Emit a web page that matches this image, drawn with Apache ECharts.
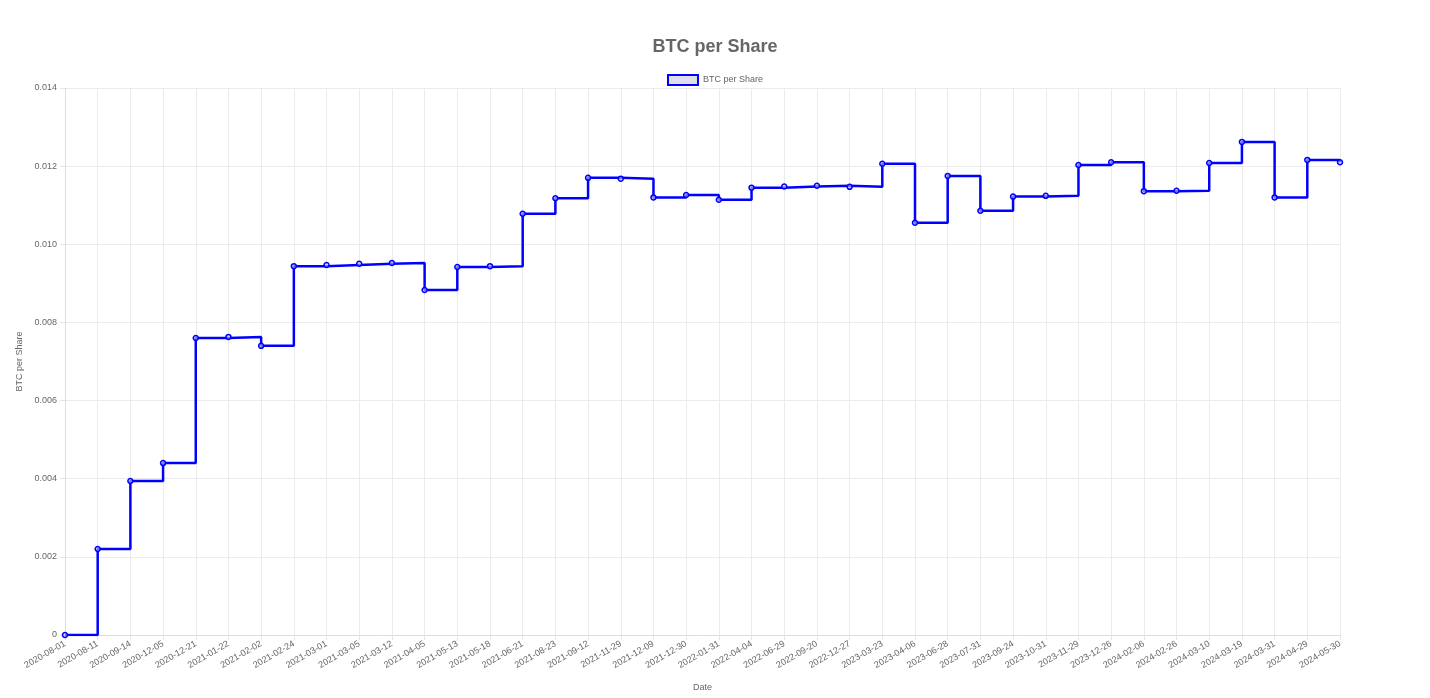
<!DOCTYPE html><html><head><meta charset="utf-8"><script src="https://cdn.jsdelivr.net/npm/echarts@6/dist/echarts.min.js"></script>
<style>html,body{margin:0;padding:0;background:#fff}#c{width:1430px;height:698px}</style></head><body><div id="c"></div>
<script>
const dates=["2020-08-01","2020-08-11","2020-09-14","2020-12-05","2020-12-21","2021-01-22","2021-02-02","2021-02-24","2021-03-01","2021-03-05","2021-03-12","2021-04-05","2021-05-13","2021-05-18","2021-06-21","2021-08-23","2021-09-12","2021-11-29","2021-12-09","2021-12-30","2022-01-31","2022-04-04","2022-06-29","2022-09-20","2022-12-27","2023-03-23","2023-04-06","2023-06-28","2023-07-31","2023-09-24","2023-10-31","2023-11-29","2023-12-26","2024-02-06","2024-02-26","2024-03-10","2024-03-19","2024-03-31","2024-04-29","2024-05-30"];
const btcPerShare=[0,0.0022,0.00394,0.0044,0.0076,0.00763,0.0074,0.00944,0.00947,0.0095,0.00952,0.00883,0.00942,0.00944,0.01078,0.01118,0.0117,0.01168,0.0112,0.01126,0.01114,0.01145,0.01148,0.0115,0.01147,0.01206,0.01055,0.01175,0.01086,0.01122,0.01124,0.01203,0.0121,0.01136,0.01137,0.01208,0.01262,0.0112,0.01216,0.0121];
const chart=echarts.init(document.getElementById('c'));
const f='"Helvetica Neue",Arial,"Liberation Sans",sans-serif';
chart.setOption({
 animation:false,
 title:{text:'BTC per Share',left:'center',top:33,textStyle:{fontSize:18,fontWeight:'bold',color:'#666',fontFamily:f}},
 legend:{top:69,left:'center',itemWidth:30,itemHeight:10,textStyle:{fontSize:9,color:'#666',fontFamily:f},
  data:[{name:'BTC per Share',icon:'rect',itemStyle:{color:'rgba(200,200,230,0.6)',borderColor:'#0000ff',borderWidth:2}}]},
 grid:{left:65,right:90,top:88,bottom:63},
 xAxis:{type:'category',data:dates,boundaryGap:false,name:'Date',nameLocation:'middle',nameGap:48,
  nameTextStyle:{fontSize:9,color:'#666',fontFamily:f},
  axisLine:{lineStyle:{color:'#ddd'}},axisTick:{show:true,length:5,lineStyle:{color:'#e5e5e5'}},
  axisLabel:{rotate:30,fontSize:9,color:'#666',interval:0,fontFamily:f},
  splitLine:{show:true,lineStyle:{color:'#ebebeb'}}},
 yAxis:{type:'value',min:0,max:0.014,interval:0.002,name:'BTC per Share',nameLocation:'middle',nameGap:40,
  nameTextStyle:{fontSize:9,color:'#666',fontFamily:f},
  axisLine:{show:true,lineStyle:{color:'#ddd'}},axisTick:{show:true,length:5,lineStyle:{color:'#e5e5e5'}},
  axisLabel:{fontSize:9,color:'#666',fontFamily:f,formatter:v=>v===0?'0':v.toFixed(3)},
  splitLine:{lineStyle:{color:'#ebebeb'}}},
 series:[{name:'BTC per Share',type:'line',step:'end',data:btcPerShare,
  symbol:'circle',symbolSize:5,showAllSymbol:true,
  itemStyle:{color:'rgba(200,200,230,0.6)',borderColor:'#0000ff',borderWidth:1.5},
  lineStyle:{color:'#0000ff',width:2.5}}]
});
</script></body></html>
